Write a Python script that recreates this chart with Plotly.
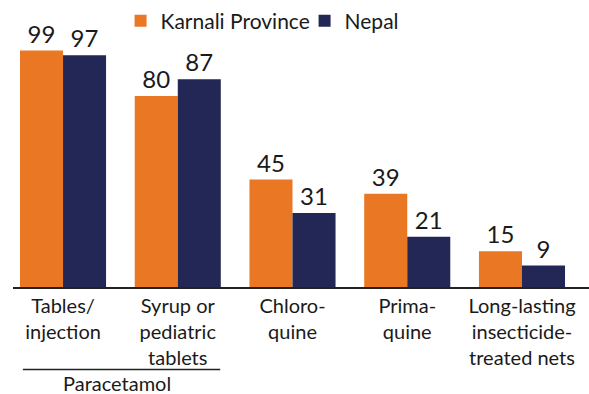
import plotly.graph_objects as go

# Categories of medicines / commodities
categories = [
    "Tables/<br>injection",
    "Syrup or<br>pediatric<br>tablets",
    "Chloro-<br>quine",
    "Prima-<br>quine",
    "Long-lasting<br>insecticide-<br>treated nets",
]
karnali = [99, 80, 45, 39, 15]
nepal = [97, 87, 31, 21, 9]

ORANGE = "#E97724"
NAVY = "#222755"
FONT = "Lato"
TEXT = "#1a1a1a"

fig = go.Figure()
for name, vals, color in [("Karnali Province", karnali, ORANGE), ("Nepal", nepal, NAVY)]:
    fig.add_trace(go.Bar(
        name=name,
        x=list(range(len(categories))),
        y=vals,
        marker=dict(color=color, line=dict(width=0)),
        text=[str(v) for v in vals],
        textposition="outside",
        textfont=dict(family=FONT, size=24, color=TEXT),
        cliponaxis=False,
        constraintext="none",
    ))

fig.update_layout(
    width=589,
    height=394,
    margin=dict(l=13, r=0, t=40, b=107),
    barmode="group",
    bargap=0.25,
    bargroupgap=0,
    plot_bgcolor="white",
    paper_bgcolor="white",
    font=dict(family=FONT, size=20, color=TEXT),
    showlegend=True,
    legend=dict(
        orientation="h",
        x=110 / 589,
        xanchor="left",
        yref="container",
        y=1 - 21 / 394,
        yanchor="middle",
        font=dict(family=FONT, size=21, color=TEXT),
        entrywidth=139,
        entrywidthmode="pixels",
        tracegroupgap=0,
    ),
    xaxis=dict(
        tickmode="array",
        tickvals=list(range(len(categories))),
        ticktext=categories,
        range=[-0.436, 4.584],
        showline=True,
        linecolor="#222222",
        linewidth=1.5,
        ticks="",
        showgrid=False,
        zeroline=False,
        tickfont=dict(family=FONT, size=20, color=TEXT),
    ),
    yaxis=dict(
        range=[0, 102.8],
        visible=False,
        showgrid=False,
    ),
)

# Grouping bracket under the two paracetamol categories
fig.add_shape(
    type="line", xref="x", yref="paper",
    x0=-0.35, x1=1.37, y0=-0.336, y1=-0.336,
    line=dict(color="#222222", width=1.5),
)
fig.add_annotation(
    text="Paracetamol", xref="x", yref="paper",
    x=0.47, y=-0.393, showarrow=False,
    font=dict(family=FONT, size=20, color=TEXT),
    xanchor="center", yanchor="middle",
)

fig.write_html("out.html")
